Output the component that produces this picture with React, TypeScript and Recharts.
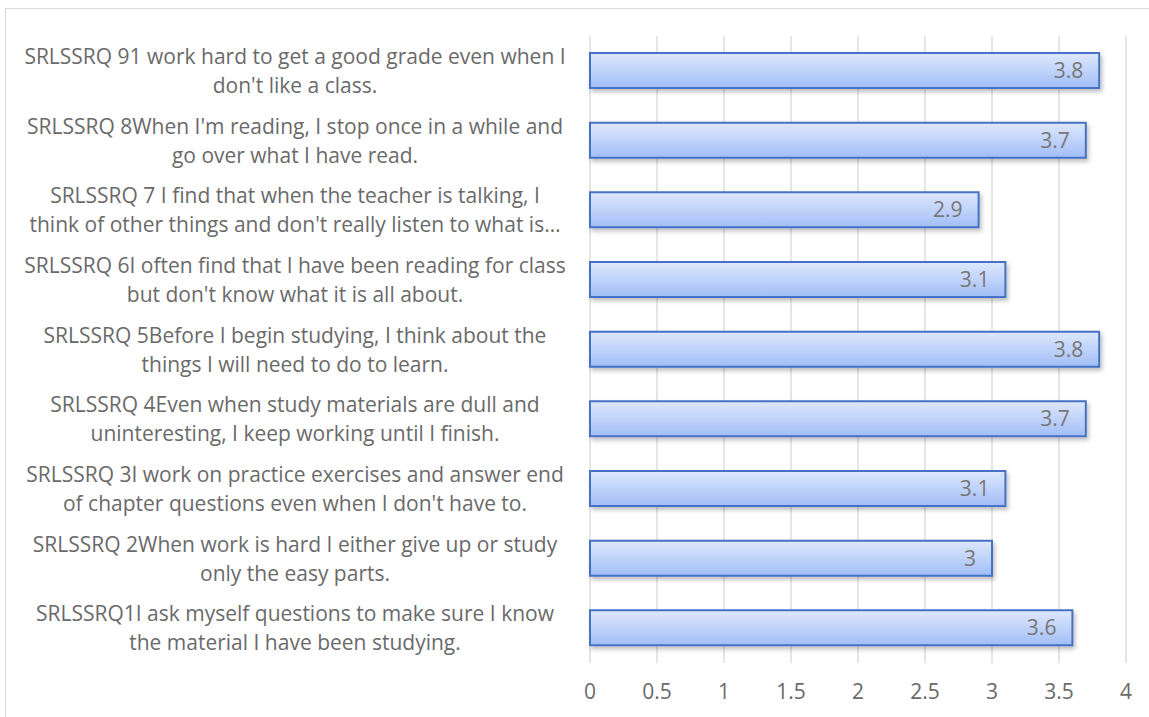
import { Bar, BarChart, CartesianGrid, LabelList, XAxis, YAxis } from "recharts"

const questions = [
  ["SRLSSRQ 91 work hard to get a good grade even when I", "don't like a class."],
  ["SRLSSRQ 8When I'm reading, I stop once in a while and", "go over what I have read."],
  ["SRLSSRQ 7 I find that when the teacher is talking, I", "think of other things and don't really listen to what is…"],
  ["SRLSSRQ 6I often find that I have been reading for class", "but don't know what it is all about."],
  ["SRLSSRQ 5Before I begin studying, I think about the", "things I will need to do to learn."],
  ["SRLSSRQ 4Even when study materials are dull and", "uninteresting, I keep working until I finish."],
  ["SRLSSRQ 3I work on practice exercises and answer end", "of chapter questions even when I don't have to."],
  ["SRLSSRQ 2When work is hard I either give up or study", "only the easy parts."],
  ["SRLSSRQ1I ask myself questions to make sure I know", "the material I have been studying."],
]

const means = [3.8, 3.7, 2.9, 3.1, 3.8, 3.7, 3.1, 3, 3.6]

const xTicks = [0, 0.5, 1, 1.5, 2, 2.5, 3, 3.5, 4]

const data = questions.map((q, i) => ({ name: q.join("\n"), value: means[i] }))

const font = "'Open Sans', 'Noto Sans', sans-serif"

function QuestionTick(props: any) {
  const { y, payload } = props
  const lines = String(payload.value).split("\n")
  return (
    <text x={295} y={y} textAnchor="middle" fill="#6a6a6a" fontSize={21} fontFamily={font}>
      <tspan x={295} dy={-7}>{lines[0]}</tspan>
      <tspan x={295} dy={29}>{lines[1]}</tspan>
    </text>
  )
}

export default function App() {
  return (
    <div style={{ position: "fixed", left: 0, top: 0, width: 1149, height: 717, background: "#fff", overflow: "hidden" }}>
      <div
        style={{
          position: "absolute",
          left: 5,
          top: 8,
          width: 1160,
          height: 730,
          borderLeft: "1px solid #d9d9d9",
          borderTop: "1px solid #d9d9d9",
        }}
      />
      <div style={{ position: "absolute", left: 0, top: 0 }}>
        <BarChart
          width={1149}
          height={717}
          data={data}
          layout="vertical"
          margin={{ top: 36, right: 23, left: 0, bottom: 0 }}
          barSize={35}
        >
          <defs>
            <linearGradient id="barFill" x1="0" y1="0" x2="0" y2="1">
              <stop offset="0%" stopColor="#dfe8fc" />
              <stop offset="100%" stopColor="#a1bef7" />
            </linearGradient>
            <filter id="barShadow" x="-5%" y="-20%" width="110%" height="160%">
              <feDropShadow dx="2" dy="3" stdDeviation="2" floodColor="#000" floodOpacity="0.25" />
            </filter>
          </defs>
          <CartesianGrid horizontal={false} stroke="#d9d9d9" strokeWidth={1.3} />
          <XAxis
            type="number"
            domain={[0, 4]}
            ticks={xTicks}
            interval={0}
            axisLine={false}
            tickLine={false}
            height={54}
            tickMargin={15}
            tick={{ fill: "#6a6a6a", fontSize: 21, fontFamily: font }}
          />
          <YAxis
            type="category"
            dataKey="name"
            width={590}
            axisLine={false}
            tickLine={false}
            interval={0}
            tick={<QuestionTick />}
          />
          <Bar
            dataKey="value"
            fill="url(#barFill)"
            stroke="#4472c4"
            strokeWidth={2}
            filter="url(#barShadow)"
            isAnimationActive={false}
          >
            <LabelList
              dataKey="value"
              position="insideRight"
              offset={16}
              fill="#777777"
              fontSize={21}
              fontFamily={font}
            />
          </Bar>
        </BarChart>
      </div>
    </div>
  )
}
